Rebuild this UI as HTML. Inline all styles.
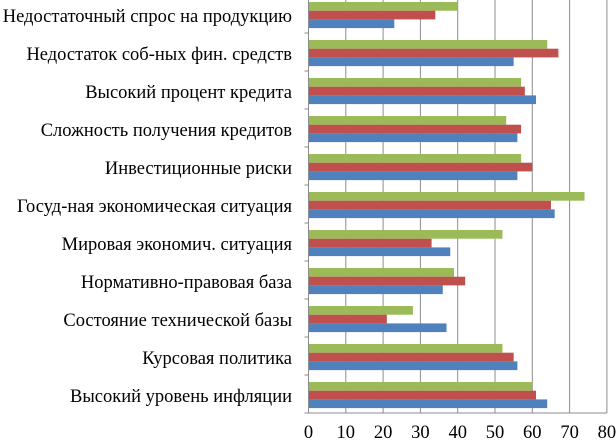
<!DOCTYPE html>
<html><head><meta charset="utf-8"><style>
html,body{margin:0;padding:0;background:#fff;}
svg{display:block;font-family:"Liberation Serif","DejaVu Serif",serif;}
</style></head><body>
<svg id="chart" width="616" height="441" xmlns="http://www.w3.org/2000/svg"></svg>
<script>
const categories=["Недостаточный спрос на продукцию","Недостаток  соб-ных фин.  средств","Высокий процент кредита","Сложность получения кредитов","Инвестиционные риски","Госуд-ная экономическая ситуация","Мировая экономич. ситуация","Нормативно-правовая база","Состояние технической базы","Курсовая политика ","Высокий уровень инфляции"];
const greenValues=[40,64,57,53,57,74,52,39,28,52,60];
const redValues=[34,67,58,57,60,65,33,42,21,55,61];
const blueValues=[23,55,61,56,56,66,38,36,37,56,64];
const tickLabels=[0,10,20,30,40,50,60,70,80];
const NS="http://www.w3.org/2000/svg";
const svg=document.getElementById('chart');
const x0=308.5,xScale=3.73,plotTop=-5,plotBottom=413;
const rowH=(plotBottom-plotTop)/categories.length;
const barH=8.7,barOff=7;
function xPos(v){return x0+v*xScale;}
function yRow(i){return plotTop+i*rowH;}
function mk(tag,attrs){const e=document.createElementNS(NS,tag);for(const k in attrs)e.setAttribute(k,attrs[k]);svg.appendChild(e);return e;}
tickLabels.forEach((t,i)=>{
  const x=xPos(t);
  if(t>0){const g=mk('line',{x1:x,x2:x,y1:0,y2:plotBottom,stroke:'#8c8c8c','stroke-width':1});
  
  }
  const tx=mk('text',{x:x,y:438,'text-anchor':'middle','font-size':18.5,fill:'#000'});
  tx.textContent=t;
  
  
});
const series=[[greenValues,'#9BBB59','green'],[redValues,'#C0504D','red'],[blueValues,'#4F81BD','blue']];
categories.forEach((c,i)=>{
  const top=yRow(i);
  series.forEach((s,j)=>{
    const r=mk('rect',{x:x0,y:top+barOff+j*barH,width:s[0][i]*xScale,height:barH,fill:s[1]});
    
    
  });
  const t=mk('text',{x:292,y:top+rowH/2+8,'text-anchor':'end','font-size':18.5,fill:'#000','xml:space':'preserve'});
  t.textContent=c;
  
  
  const tk=mk('line',{x1:x0-4,x2:x0,y1:top+rowH,y2:top+rowH,stroke:'#8c8c8c'});
  
  
});
const ax=mk('line',{x1:x0,x2:x0,y1:0,y2:plotBottom,stroke:'#8c8c8c'});


const bx=mk('line',{x1:x0,x2:xPos(80),y1:plotBottom,y2:plotBottom,stroke:'#8c8c8c'});


</script>
</body></html>
